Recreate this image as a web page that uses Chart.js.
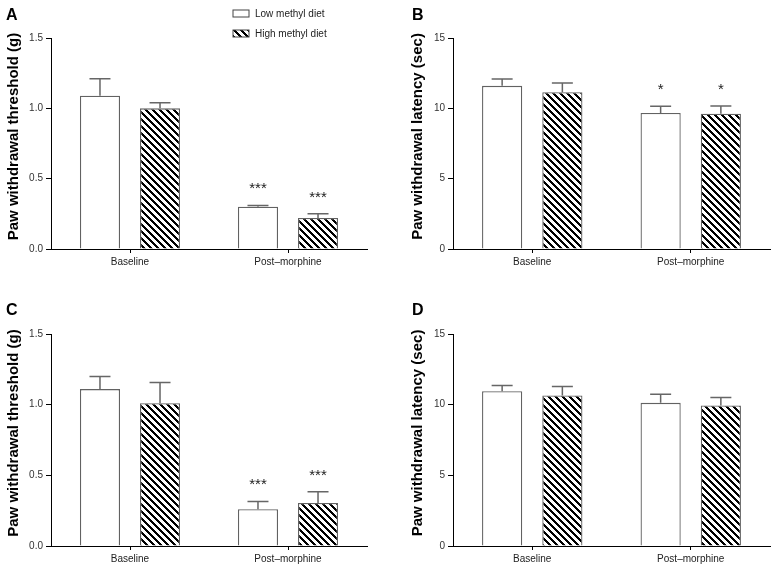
<!DOCTYPE html>
<html>
<head>
<meta charset="utf-8">
<script src="https://cdn.jsdelivr.net/npm/chart.js@4.4.1/dist/chart.umd.min.js"></script>
<style>
  html, body { margin: 0; padding: 0; background: #fff; }
  #fig { position: relative; width: 778px; height: 573px; }
  #fig canvas { position: absolute; }
</style>
</head>
<body>
<div id="fig">
  <canvas id="panelA" width="389" height="280" style="left:0;top:0"></canvas>
  <canvas id="panelB" width="389" height="280" style="left:389px;top:0"></canvas>
  <canvas id="panelC" width="389" height="293" style="left:0;top:280px"></canvas>
  <canvas id="panelD" width="389" height="293" style="left:389px;top:280px"></canvas>
</div>
<script>
const categories = ['Baseline', 'Post\u2013morphine'];
const groupNames = ['Low methyl diet', 'High methyl diet'];

// A: von Frey threshold
const aLow = [1.09, 0.30];
const aLowSem = [0.12, 0.01];
const aHigh = [1.00, 0.22];
const aHighSem = [0.04, 0.03];
const aStars = ['', '***'];

// B: hot plate latency
const bLow = [11.6, 9.67];
const bLowSem = [0.48, 0.47];
const bHigh = [11.14, 9.62];
const bHighSem = [0.66, 0.55];
const bStars = ['', '*'];

// C: von Frey threshold, second set
const cLow = [1.11, 0.26];
const cLowSem = [0.09, 0.055];
const cHigh = [1.01, 0.305];
const cHighSem = [0.146, 0.078];
const cStars = ['', '***'];

// D: latency, second set
const dLow = [10.95, 10.13];
const dLowSem = [0.41, 0.61];
const dHigh = [10.65, 9.94];
const dHighSem = [0.64, 0.56];
const dStars = ['', ''];

const FONT = '"Liberation Sans", Arial, sans-serif';

// crisp diagonal hatch for the high methyl bars
function makeHatch() {
    const n = 7;
    const c = document.createElement('canvas');
    c.width = n; c.height = n;
    const g = c.getContext('2d');
    g.fillStyle = '#fff';
    g.fillRect(0, 0, n, n);
    g.fillStyle = '#000';
    for (let y = 0; y < n; y++) {
        for (let x = 0; x < n; x++) {
            if (((x - y) % n + n) % n < 3) g.fillRect(x, y, 1, 1);
        }
    }
    return g.createPattern(c, 'repeat');
}
const hatch = makeHatch();

// upper error whiskers + significance stars
const errorBars = {
    id: 'errorBars',
    afterDatasetsDraw(chart) {
        const ctx = chart.ctx;
        const y = chart.scales.y;
        chart.data.datasets.forEach((ds, i) => {
            chart.getDatasetMeta(i).data.forEach((bar, j) => {
                const top = y.getPixelForValue(ds.data[j] + ds.sem[j]);
                ctx.save();
                ctx.strokeStyle = '#666';
                ctx.lineWidth = 1.5;
                ctx.beginPath();
                ctx.moveTo(bar.x, bar.y);
                ctx.lineTo(bar.x, top);
                ctx.moveTo(bar.x - 10.5, top);
                ctx.lineTo(bar.x + 10.5, top);
                ctx.stroke();
                if (ds.stars[j]) {
                    ctx.fillStyle = '#222';
                    ctx.font = '15px ' + FONT;
                    ctx.textAlign = 'center';
                    ctx.textBaseline = 'alphabetic';
                    ctx.fillText(ds.stars[j], bar.x, top - 12);
                }
                ctx.restore();
            });
        });
    }
};

// panel letter and rotated y title (sits a little above the axis middle)
const panelText = {
    id: 'panelText',
    afterDraw(chart, args, opts) {
        const ctx = chart.ctx;
        const area = chart.chartArea;
        ctx.save();
        ctx.fillStyle = '#000';
        ctx.font = 'bold 16px ' + FONT;
        ctx.textBaseline = 'alphabetic';
        ctx.fillText(opts.letter, opts.letterX, opts.letterY);
        ctx.translate(opts.titleX, (area.top + area.bottom) / 2 - 7);
        ctx.rotate(-Math.PI / 2);
        ctx.font = 'bold 15px ' + FONT;
        ctx.textAlign = 'center';
        ctx.textBaseline = 'middle';
        ctx.fillText(opts.title, 0, 0);
        ctx.restore();
    }
};

const boxLegend = {
    id: 'boxLegend',
    afterDraw(chart) {
        const ctx = chart.ctx;
        ctx.save();
        chart.data.datasets.forEach((ds, i) => {
            const top = 10 + i * 20;
            ctx.fillStyle = ds.backgroundColor;
            ctx.fillRect(233, top, 16, 7);
            ctx.strokeStyle = '#444';
            ctx.lineWidth = 1;
            ctx.strokeRect(233, top, 16, 7);
            ctx.fillStyle = '#222';
            ctx.font = '10px ' + FONT;
            ctx.textBaseline = 'middle';
            ctx.fillText(ds.label, 255, top + 4);
        });
        ctx.restore();
    }
};

function makePanel(id, p) {
    const plugins = [errorBars, panelText];
    if (p.legend) plugins.push(boxLegend);
    return new Chart(document.getElementById(id), {
        type: 'bar',
        data: {
            labels: categories,
            datasets: [{
                label: groupNames[0],
                data: p.low,
                sem: p.lowSem,
                stars: p.lowStars,
                backgroundColor: '#fff',
                borderColor: '#626262',
                borderWidth: 1.3
            }, {
                label: groupNames[1],
                data: p.high,
                sem: p.highSem,
                stars: p.highStars,
                backgroundColor: hatch,
                borderColor: '#626262',
                borderWidth: 1.3
            }]
        },
        options: {
            responsive: false,
            animation: false,
            categoryPercentage: 0.76,
            barPercentage: 0.667,
            layout: { padding: { top: p.top, right: p.right, left: 0, bottom: 0 } },
            plugins: {
                legend: { display: false },
                tooltip: { enabled: false },
                panelText: {
                    letter: p.letter, letterX: p.letterX, letterY: p.letterY,
                    title: p.title, titleX: p.titleX
                }
            },
            scales: {
                x: {
                    afterFit: s => { s.height = p.xHeight; },
                    grid: { offset: false, drawOnChartArea: false, tickLength: 4, color: '#000' },
                    border: { color: '#000', width: 1 },
                    ticks: { color: '#222', padding: 3, font: { family: FONT, size: 10 } }
                },
                y: {
                    min: 0,
                    max: p.yMax,
                    afterFit: s => { s.width = p.yWidth; },
                    grid: { drawOnChartArea: false, tickLength: 5, color: '#000' },
                    border: { color: '#000', width: 1 },
                    ticks: {
                        stepSize: p.yMax / 3,
                        padding: 3,
                        color: '#333',
                        font: { family: FONT, size: 10 },
                        callback: v => v.toFixed(p.decimals)
                    }
                }
            }
        },
        plugins: plugins
    });
}

makePanel('panelA', {
    low: aLow, lowSem: aLowSem, lowStars: aStars,
    high: aHigh, highSem: aHighSem, highStars: aStars,
    yMax: 1.5, decimals: 1, title: 'Paw withdrawal threshold (g)', titleX: 14,
    letter: 'A', letterX: 6, letterY: 20, legend: true,
    top: 38, right: 22, xHeight: 31, yWidth: 51
});
makePanel('panelB', {
    low: bLow, lowSem: bLowSem, lowStars: bStars,
    high: bHigh, highSem: bHighSem, highStars: bStars,
    yMax: 15, decimals: 0, title: 'Paw withdrawal latency (sec)', titleX: 29,
    letter: 'B', letterX: 23, letterY: 20, legend: false,
    top: 38, right: 8, xHeight: 31, yWidth: 64
});
makePanel('panelC', {
    low: cLow, lowSem: cLowSem, lowStars: cStars,
    high: cHigh, highSem: cHighSem, highStars: cStars,
    yMax: 1.5, decimals: 1, title: 'Paw withdrawal threshold (g)', titleX: 14,
    letter: 'C', letterX: 6, letterY: 35, legend: false,
    top: 54, right: 22, xHeight: 27, yWidth: 51
});
makePanel('panelD', {
    low: dLow, lowSem: dLowSem, lowStars: dStars,
    high: dHigh, highSem: dHighSem, highStars: dStars,
    yMax: 15, decimals: 0, title: 'Paw withdrawal latency (sec)', titleX: 29,
    letter: 'D', letterX: 23, letterY: 35, legend: false,
    top: 54, right: 8, xHeight: 27, yWidth: 64
});
</script>
</body>
</html>
